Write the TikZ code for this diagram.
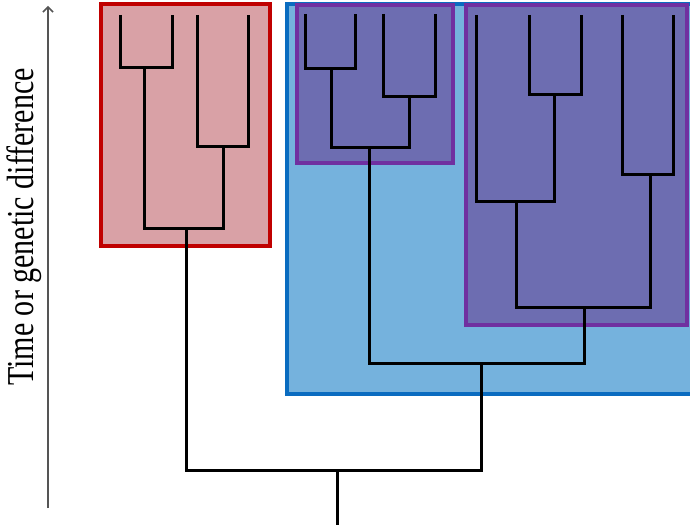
\documentclass[tikz,border=0pt]{standalone}
\usepackage{fontspec}
\setmainfont{Liberation Serif}
\usetikzlibrary{arrows.meta}
\definecolor{redfill}{HTML}{D9A1A6}
\definecolor{redline}{HTML}{C00000}
\definecolor{bluefill}{HTML}{75B2DD}
\definecolor{blueline}{HTML}{0A6CC0}
\definecolor{purpfill}{HTML}{6D6DB1}
\definecolor{purpline}{HTML}{7030A0}
\definecolor{axisgray}{HTML}{555555}
\tikzset{
  branch/.style={draw=black, line width=3pt, line join=miter},
  cladebox/.style={line width=3.5pt},
}
\begin{document}
\begin{tikzpicture}[x=1pt, y=-1pt]
\useasboundingbox (0,0) rectangle (690,529);
\fill[white] (0,0) rectangle (690,529);

% clade boxes
\draw[cladebox, draw=blueline, fill=bluefill] (287,4) rectangle (694,394);
\draw[cladebox, draw=purpline, fill=purpfill] (297,5) rectangle (453,163);
\draw[cladebox, draw=purpline, fill=purpfill] (466,5) rectangle (687,325);
\draw[cladebox, draw=redline, fill=redfill] (101,4) rectangle (270,246);

% red clade
\coordinate (r1) at (120,15);
\coordinate (r2) at (172,15);
\coordinate (r3) at (197,15);
\coordinate (r4) at (248,15);
\coordinate (ra) at (144,68);
\coordinate (rb) at (223,147);
\coordinate (rc) at (186,229);
% first purple clade
\coordinate (p1) at (305,14);
\coordinate (p2) at (355,14);
\coordinate (p3) at (383,14);
\coordinate (p4) at (435,14);
\coordinate (pa) at (331,69);
\coordinate (pb) at (409,97);
\coordinate (pc) at (369,148);
% second purple clade
\coordinate (q1) at (476,15);
\coordinate (q2) at (529,15);
\coordinate (q3) at (581,15);
\coordinate (q4) at (622,15);
\coordinate (q5) at (673,15);
\coordinate (qa) at (554,95);
\coordinate (qb) at (516,202);
\coordinate (qc) at (650,175);
\coordinate (qd) at (584,307);
% blue clade and root
\coordinate (bd) at (481,363);
\coordinate (root) at (337,470);
\coordinate (rootend) at (337,525);

\draw[branch] (r1) |- (ra) -| (r2);
\draw[branch] (r3) |- (rb) -| (r4);
\draw[branch] (ra) |- (rc) -| (rb);

\draw[branch] (p1) |- (pa) -| (p2);
\draw[branch] (p3) |- (pb) -| (p4);
\draw[branch] (pa) |- (pc) -| (pb);

\draw[branch] (q2) |- (qa) -| (q3);
\draw[branch] (q1) |- (qb) -| (qa);
\draw[branch] (q4) |- (qc) -| (q5);
\draw[branch] (qb) |- (qd) -| (qc);

\draw[branch] (pc) |- (bd) -| (qd);
\draw[branch] (rc) |- (root) -| (bd);
\draw[branch] (root) -- (rootend);

% time axis
\coordinate (axbot) at (48,508);
\coordinate (axtop) at (48,6);
\draw[axisgray, line width=1.5pt, -{Straight Barb[length=5pt,width=10pt]}] (axbot) -- (axtop);
\node[rotate=90, anchor=base, font=\fontsize{38}{38}\selectfont, inner sep=0pt] (axlabel) at (33,227) {\scalebox{0.79}[1]{Time or genetic difference}};
\end{tikzpicture}
\end{document}
